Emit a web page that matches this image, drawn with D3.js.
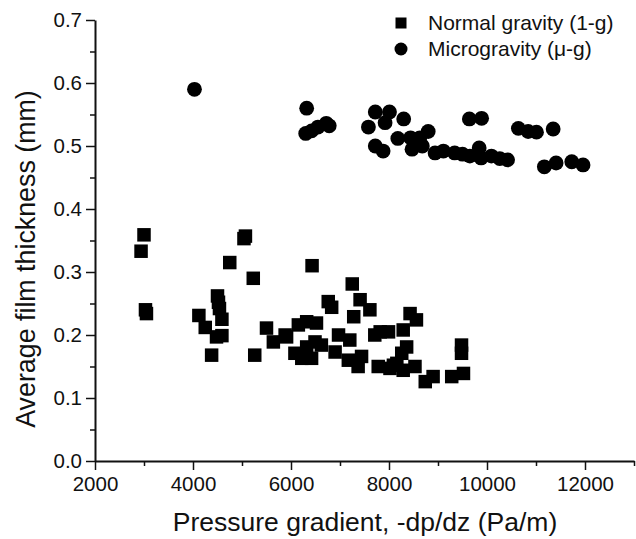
<!DOCTYPE html>
<html>
<head>
<meta charset="utf-8">
<script src="https://cdn.jsdelivr.net/npm/d3@7"></script>
<style>
  body { margin: 0; background: #fff; }
  text { font-family: "Liberation Sans", Arial, sans-serif; fill: #111; }
</style>
</head>
<body>
<svg id="chart" width="636" height="539"></svg>
<script>
"use strict";

// normal gravity (1-g): [pressure gradient Pa/m, film thickness mm]
const normalGravity = [
  [2940, 0.333], [3000, 0.359], [3030, 0.240], [3050, 0.234],
  [4120, 0.231], [4250, 0.212], [4380, 0.168], [4480, 0.197], [4500, 0.262],
  [4520, 0.252], [4540, 0.242], [4590, 0.225], [4590, 0.199], [4750, 0.315],
  [5040, 0.353], [5070, 0.357], [5230, 0.290], [5260, 0.168], [5500, 0.211],
  [5640, 0.189], [5880, 0.200], [5910, 0.197],
  [6080, 0.171], [6150, 0.216], [6220, 0.163], [6320, 0.221], [6320, 0.181],
  [6420, 0.163], [6430, 0.310], [6490, 0.189], [6520, 0.219], [6620, 0.184],
  [6760, 0.253], [6830, 0.244], [6900, 0.173], [6970, 0.200], [7170, 0.160],
  [7200, 0.192], [7250, 0.281], [7280, 0.229], [7370, 0.150], [7410, 0.256],
  [7440, 0.166], [7610, 0.240], [7710, 0.200], [7780, 0.150], [7820, 0.205],
  [7990, 0.205], [8020, 0.147], [8090, 0.152], [8160, 0.155], [8260, 0.171],
  [8290, 0.208], [8290, 0.144], [8360, 0.181], [8430, 0.234], [8530, 0.150],
  [8560, 0.224], [8740, 0.126], [8900, 0.134], [9280, 0.134], [9480, 0.184],
  [9480, 0.171], [9520, 0.139]
];

// microgravity (u-g)
const microGravity = [
  [4030, 0.590], [6320, 0.560], [6300, 0.520], [6420, 0.524], [6550, 0.530],
  [6720, 0.536], [6780, 0.532],
  [7580, 0.530], [7720, 0.554], [8010, 0.554], [7920, 0.537], [8300, 0.543],
  [7720, 0.500], [7880, 0.492], [8180, 0.512], [8440, 0.513], [8470, 0.495],
  [8630, 0.513], [8800, 0.523], [8680, 0.500], [8940, 0.489], [9110, 0.492],
  [9340, 0.489], [9500, 0.487], [9650, 0.484], [9840, 0.497], [9880, 0.481],
  [9640, 0.543], [9890, 0.544], [10090, 0.484], [10260, 0.480], [10420, 0.478],
  [10640, 0.528], [10840, 0.523], [11010, 0.522], [11350, 0.527],
  [11170, 0.467], [11410, 0.473], [11730, 0.475], [11960, 0.470]
];

const xTicks = [2000, 4000, 6000, 8000, 10000, 12000];
const yTicks = [0.0, 0.1, 0.2, 0.3, 0.4, 0.5, 0.6, 0.7];

const legendItems = ["Normal gravity (1-g)", "Microgravity (\u03bc-g)"];

const svg = d3.select("#chart");

const plotLeft = 95, plotBottom = 461, plotTop = 20, plotRight = 634;

const x = d3.scaleLinear().domain([2000, 13000]).range([plotLeft, plotRight]);
const y = d3.scaleLinear().domain([0, 0.7]).range([plotBottom, plotTop]);

// minor ticks first, then major with labels
const xMinor = d3.range(3000, 13001, 2000);
const yMinor = d3.range(0.05, 0.7, 0.1);

svg.append("g")
  .attr("transform", `translate(0,${plotBottom})`)
  .call(d3.axisBottom(x).tickValues(xMinor).tickSize(5).tickFormat(""))
  .call(g => g.select(".domain").remove())
  .selectAll("line").attr("stroke", "#111").attr("stroke-width", 1.5);

svg.append("g")
  .attr("transform", `translate(${plotLeft},0)`)
  .call(d3.axisLeft(y).tickValues(yMinor).tickSize(5).tickFormat(""))
  .call(g => g.select(".domain").remove())
  .selectAll("line").attr("stroke", "#111").attr("stroke-width", 1.5);

let xAxis = svg.append("g")
  .attr("transform", `translate(0,${plotBottom})`)
  .call(d3.axisBottom(x).tickValues(xTicks).tickSize(9).tickSizeOuter(0).tickPadding(6).tickFormat(d3.format("d")));
xAxis.select(".domain").attr("stroke", "#111").attr("stroke-width", 2);
xAxis.selectAll("line").attr("stroke", "#111").attr("stroke-width", 1.5);
xAxis.selectAll("text").style("font-size", "20.5px").attr("fill", "#111");

let yAxis = svg.append("g")
  .attr("transform", `translate(${plotLeft},0)`)
  .call(d3.axisLeft(y).tickValues(yTicks).tickSize(9).tickSizeOuter(0).tickPadding(4).tickFormat(d3.format(".1f")));
yAxis.select(".domain").attr("stroke", "#111").attr("stroke-width", 2);
yAxis.selectAll("line").attr("stroke", "#111").attr("stroke-width", 1.5);
yAxis.selectAll("text").style("font-size", "20.5px").attr("fill", "#111");

// data
const sq = 13.5;
svg.append("g").selectAll("rect")
  .data(normalGravity)
  .join("rect")
  .attr("x", d => x(d[0]) - sq / 2)
  .attr("y", d => y(d[1]) - sq / 2)
  .attr("width", sq)
  .attr("height", sq)
  .attr("fill", "#000");

svg.append("g").selectAll("circle")
  .data(microGravity)
  .join("circle")
  .attr("cx", d => x(d[0]))
  .attr("cy", d => y(d[1]))
  .attr("r", 7.4)
  .attr("fill", "#000");

// axis titles
svg.append("text")
  .attr("x", 365)
  .attr("y", 531)
  .attr("text-anchor", "middle")
  .style("font-size", "26.5px")
  .text("Pressure gradient, -dp/dz (Pa/m)");

svg.append("text")
  .attr("transform", "translate(35,259) rotate(-90)")
  .attr("text-anchor", "middle")
  .style("font-size", "26.8px")
  .text("Average film thickness (mm)");

// legend
const legend = svg.append("g").attr("transform", "translate(401,23)");
legend.append("rect").attr("x", -5.5).attr("y", -5.5).attr("width", 11).attr("height", 11).attr("fill", "#000");
legend.append("circle").attr("cx", 0).attr("cy", 26).attr("r", 6.5).attr("fill", "#000");
legend.selectAll("text")
  .data(legendItems)
  .join("text")
  .attr("x", 27)
  .attr("y", (d, i) => i * 26 + 7)
  .style("font-size", "21px")
  .text(d => d);
</script>
</body>
</html>
